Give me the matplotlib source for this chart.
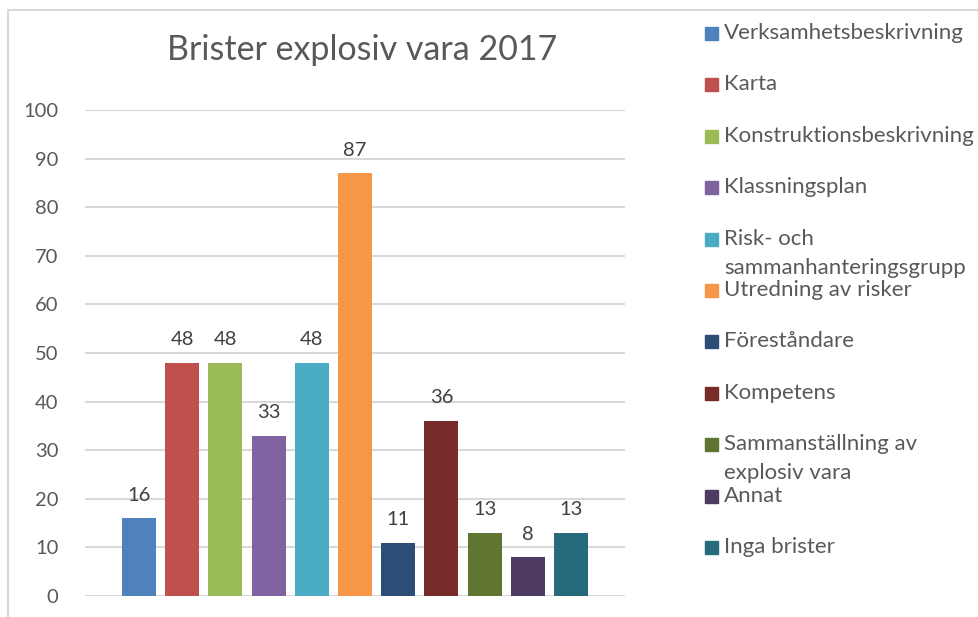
import matplotlib.pyplot as plt
from matplotlib.lines import Line2D
from matplotlib.patches import Rectangle

categories = ['Verksamhetsbeskrivning', 'Karta', 'Konstruktionsbeskrivning', 'Klassningsplan',
              'Risk- och\nsammanhanteringsgrupp', 'Utredning av risker', 'Föreståndare',
              'Kompetens', 'Sammanställning av\nexplosiv vara', 'Annat', 'Inga brister']
values = [16, 48, 48, 33, 48, 87, 11, 36, 13, 8, 13]
colors = ['#4F81BD', '#C0504D', '#9BBB59', '#8064A2', '#4BACC6', '#F79646',
          '#2C4D75', '#772C2A', '#5F7530', '#4D3B62', '#276A7C']
yticks = [0, 10, 20, 30, 40, 50, 60, 70, 80, 90, 100]

plt.rcParams['font.family'] = ['Lato', 'DejaVu Sans']
W, H = 979, 617
fig = plt.figure(figsize=(W / 100, H / 100), dpi=100)

# axes placed in pixel coords: x 85..625, y 110..596
ax = fig.add_axes([85 / W, 1 - 596 / H, (625 - 85) / W, (596 - 110) / H])
x = list(range(len(values)))
ax.bar(x, values, width=0.79, color=colors, zorder=3)
for xi, v in zip(x, values):
    ax.text(xi, v + 3, str(v), ha='center', va='bottom', fontsize=14.5, color='#404040')

ax.set_xlim(-1.25, 11.25)
ax.set_ylim(0, 100)
ax.set_yticks(yticks)
ax.set_xticks([])
ax.yaxis.grid(True, color='#d9d9d9', linewidth=1.5, zorder=0)
for s in ax.spines.values():
    s.set_visible(False)
ax.tick_params(axis='y', length=0, pad=19, labelsize=14.5, labelcolor='#595959')

fig.text(362 / W, 1 - 50 / H, 'Brister explosiv vara 2017', ha='center', va='center',
         fontsize=24.5, color='#595959')

# chart border (clipped by image edge)
fig.add_artist(Line2D([8 / W, 8 / W], [0, 1 - 10 / H], color='#d9d9d9', linewidth=1.5))
fig.add_artist(Line2D([8 / W, 1], [1 - 10 / H, 1 - 10 / H], color='#d9d9d9', linewidth=1.5))

# legend
y0, step = 33, 51.4
for i, (lab, c) in enumerate(zip(categories, colors)):
    yc = y0 + step * i
    fig.add_artist(Rectangle((705 / W, 1 - (yc + 7) / H), 13 / W, 13 / H,
                             transform=fig.transFigure, color=c))
    lines = lab.split('\n')
    for j, ln in enumerate(lines):
        fig.text(724 / W, 1 - (yc + 29 * j) / H, ln, ha='left', va='center',
                 fontsize=16, color='#595959')

fig.savefig('out.png', dpi=100)
